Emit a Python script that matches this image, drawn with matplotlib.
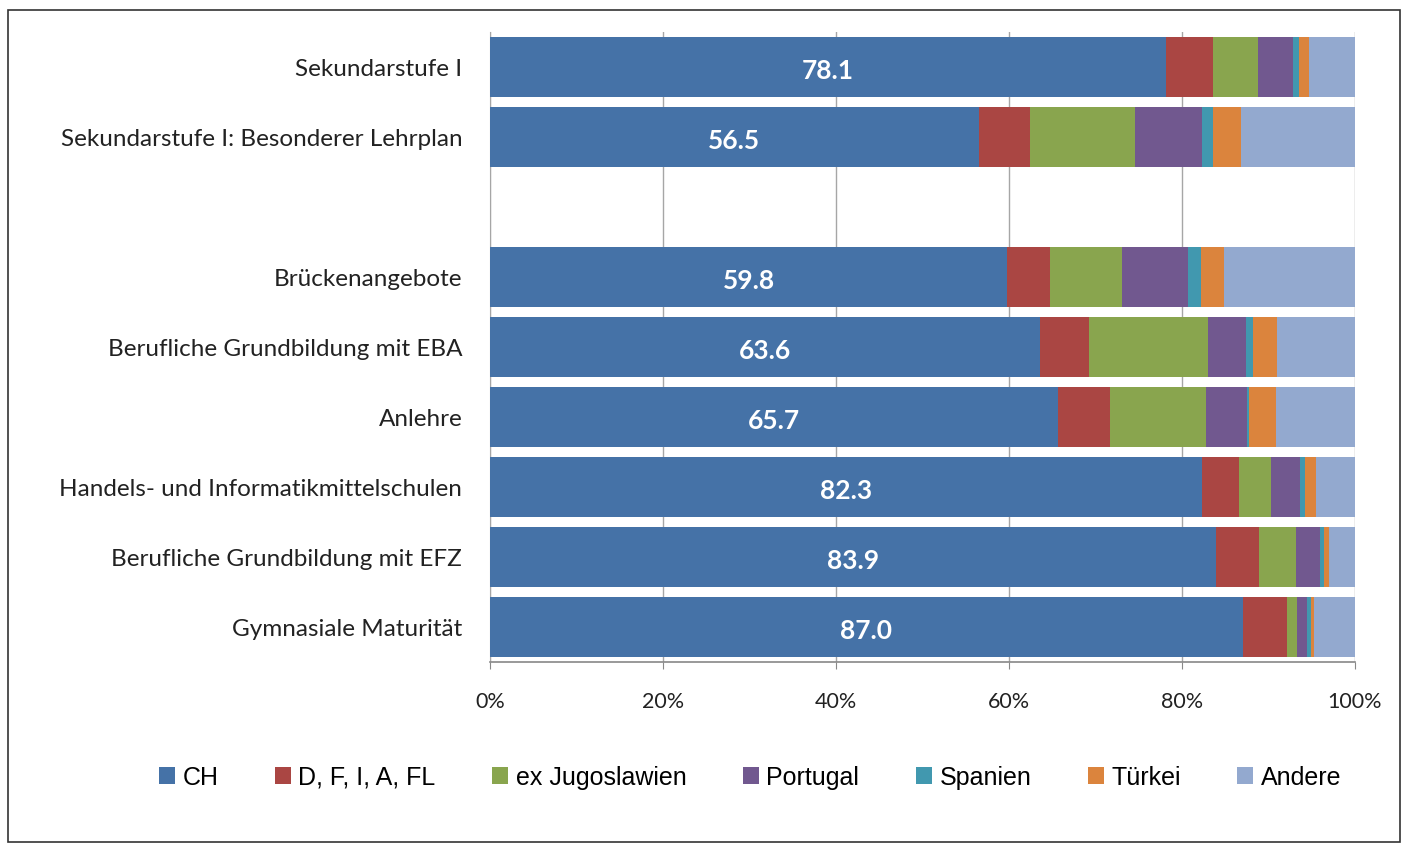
import matplotlib
matplotlib.use("Agg")
import matplotlib.pyplot as plt
from matplotlib.patches import Rectangle
import numpy as np

categories = ["Sekundarstufe I", "Sekundarstufe I: Besonderer Lehrplan", "",
              "Brückenangebote", "Berufliche Grundbildung mit EBA", "Anlehre",
              "Handels- und Informatikmittelschulen", "Berufliche Grundbildung mit EFZ",
              "Gymnasiale Maturität"]
series_names = ["CH", "D, F, I, A, FL", "ex Jugoslawien", "Portugal", "Spanien", "Türkei", "Andere"]
ch       = [78.1, 56.5, 0, 59.8, 63.6, 65.7, 82.3, 83.9, 87.0]
dfiafl   = [5.5, 5.9, 0, 4.9, 5.7, 6.0, 4.3, 5.0, 5.1]
exjugo   = [5.2, 12.2, 0, 8.4, 13.7, 11.1, 3.7, 4.3, 1.2]
portugal = [4.0, 7.7, 0, 7.6, 4.4, 4.7, 3.3, 2.8, 1.2]
spanien  = [0.7, 1.3, 0, 1.5, 0.8, 0.2, 0.6, 0.4, 0.4]
tuerkei  = [1.2, 3.2, 0, 2.6, 2.8, 3.2, 1.3, 0.6, 0.4]
andere   = [5.3, 13.2, 0, 15.2, 9.0, 9.1, 4.5, 3.0, 4.7]
value_labels = ["78.1", "56.5", "", "59.8", "63.6", "65.7", "82.3", "83.9", "87.0"]
xticks = [0, 20, 40, 60, 80, 100]
xtick_labels = ["0%", "20%", "40%", "60%", "80%", "100%"]

colors = ["#4572A7", "#AA4643", "#89A54E", "#71588F", "#4198AF", "#DB843D", "#93A9CF"]

label_font = ["Lato", "DejaVu Sans"]
legend_font = ["Liberation Sans", "DejaVu Sans"]

W, H = 1413, 845
fig = plt.figure(figsize=(W / 100, H / 100), dpi=100)
fig.patches.append(Rectangle((8 / W, 1 - 843 / H), (1400 - 8) / W, (843 - 11) / H,
                             transform=fig.transFigure, fill=False, edgecolor="#333333",
                             linewidth=1.2, zorder=0))
ax = fig.add_axes([490 / W, 1 - 663 / H, (1355 - 490) / W, (663 - 33) / H])

data = [ch, dfiafl, exjugo, portugal, spanien, tuerkei, andere]
y = np.arange(len(categories))
left = np.zeros(len(categories))
for vals, name, col in zip(data, series_names, colors):
    v = np.array(vals, dtype=float)
    ax.barh(y, v, left=left, height=0.86, color=col, label=name, edgecolor="none", zorder=3)
    left += v

for yi, (v, lab) in enumerate(zip(ch, value_labels)):
    if lab:
        ax.text(v / 2, yi + 0.04, lab, ha="center", va="center", color="white",
                fontsize=19, fontweight="bold", family=label_font, zorder=4)

ax.set_xlim(0, 100)
ax.set_ylim(len(categories) - 0.5, -0.5)
ax.set_yticks(y)
ax.set_yticklabels(categories, fontsize=17.5, family=label_font, color="#222222")
ax.set_xticks(xticks)
ax.set_xticklabels(xtick_labels, fontsize=15.5, family=label_font, color="#222222")
ax.tick_params(axis="y", length=0, pad=20)
ax.tick_params(axis="x", length=5, color="#888888", pad=16)
ax.xaxis.grid(True, color="#A6A6A6", linewidth=1.0, zorder=0)
ax.set_axisbelow(True)
for s in ["top", "right"]:
    ax.spines[s].set_visible(False)
ax.spines["left"].set_color("#A6A6A6")
ax.spines["bottom"].set_color("#888888")
ax.spines["bottom"].set_linewidth(1.2)

handles, labels = ax.get_legend_handles_labels()
leg = fig.legend(handles, labels, loc="center", bbox_to_anchor=(750 / W, 1 - 778 / H),
                 ncol=7, frameon=False, prop={"family": legend_font, "size": 18},
                 handlelength=0.65, handleheight=0.65, handletextpad=0.3, columnspacing=2.25)

fig.savefig("out.png", dpi=100)
